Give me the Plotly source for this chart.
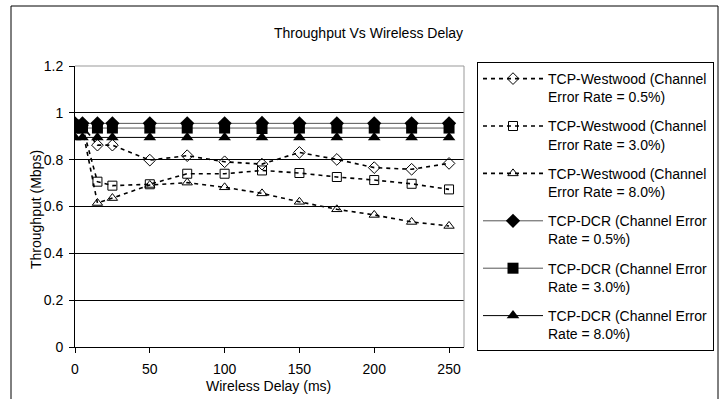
import plotly.graph_objects as go

# Wireless delay (ms)
delay = [0, 5, 15, 25, 50, 75, 100, 125, 150, 175, 200, 225, 250]

# Throughput (Mbps)
westwood_05 = [0.95, 0.945, 0.862, 0.862, 0.798, 0.817, 0.791, 0.781, 0.831, 0.801, 0.766, 0.759, 0.784]
westwood_30 = [0.95, 0.94, 0.706, 0.689, 0.695, 0.740, 0.740, 0.754, 0.743, 0.726, 0.713, 0.697, 0.673]
westwood_80 = [0.95, 0.93, 0.615, 0.636, 0.692, 0.702, 0.682, 0.656, 0.620, 0.588, 0.564, 0.534, 0.517]
dcr_05 = [0.955, 0.955, 0.955, 0.955, 0.955, 0.955, 0.955, 0.957, 0.955, 0.955, 0.955, 0.955, 0.955]
dcr_30 = [0.935, 0.935, 0.935, 0.935, 0.935, 0.935, 0.935, 0.933, 0.935, 0.935, 0.935, 0.935, 0.935]
dcr_80 = [0.895, 0.895, 0.895, 0.895, 0.895, 0.895, 0.895, 0.895, 0.895, 0.895, 0.895, 0.895, 0.895]

names = [
    "TCP-Westwood (Channel<br>Error Rate = 0.5%)",
    "TCP-Westwood (Channel<br>Error Rate = 3.0%)",
    "TCP-Westwood (Channel<br>Error Rate = 8.0%)",
    "TCP-DCR (Channel Error<br>Rate = 0.5%)",
    "TCP-DCR (Channel Error<br>Rate = 3.0%)",
    "TCP-DCR (Channel Error<br>Rate = 8.0%)",
]

FONT = "Liberation Sans, Arial, sans-serif"

fig = go.Figure()

ww_series = [westwood_05, westwood_30, westwood_80]
ww_symbols = ["diamond-open", "square-open", "triangle-up-open"]
for i, (vals, sym) in enumerate(zip(ww_series, ww_symbols)):
    fig.add_trace(go.Scatter(
        x=delay, y=vals, name=names[i], mode="lines+markers",
        line=dict(color="black", width=1.6, dash="4px,4px"),
        marker=dict(symbol=sym, size=9, color="black", line=dict(width=1, color="black")),
        legendgroup=f"g{i}",
    ))

dcr_series = [dcr_05, dcr_30, dcr_80]
dcr_symbols = ["diamond", "square", "triangle-up"]
dcr_colors = ["#555555", "#555555", "black"]
for j, (vals, sym, col) in enumerate(zip(dcr_series, dcr_symbols, dcr_colors)):
    i = j + 3
    fig.add_trace(go.Scatter(
        x=delay, y=vals, name=names[i], mode="lines+markers",
        line=dict(color=col, width=1),
        marker=dict(symbol=sym, size=11, color="black", line=dict(width=0)),
        legendgroup=f"g{i}",
    ))

L, R, T, B = 75, 464, 66, 347
W, H = 720, 399
pw, ph = R - L, B - T


def px_x(p):
    return (p - L) / pw


def px_y(p):
    return (B - p) / ph


fig.update_layout(
    width=W, height=H,
    margin=dict(l=L, r=W - R, t=T, b=H - B, pad=0, autoexpand=False),
    paper_bgcolor="white", plot_bgcolor="white",
    font=dict(family=FONT, size=14, color="black"),
    showlegend=True,
    legend=dict(
        x=px_x(477), y=px_y(62), xanchor="left", yanchor="top",
        bordercolor="black", borderwidth=1, bgcolor="white",
        font=dict(family=FONT, size=14, color="black"),
        itemwidth=60, valign="top",
        traceorder="grouped", tracegroupgap=8,
        maxheight=400,
    ),
    xaxis=dict(
        range=[0, 260], tickvals=[0, 50, 100, 150, 200, 250],
        showgrid=False, zeroline=False,
        showline=True, linecolor="black", linewidth=1,
        ticks="outside", ticklen=5, tickcolor="black",
        ticklabelstandoff=4,
        tickfont=dict(family=FONT, size=14),
    ),
    yaxis=dict(
        range=[0, 1.2], tickvals=[0, 0.2, 0.4, 0.6, 0.8, 1, 1.2],
        ticktext=["0", "0.2", "0.4", "0.6", "0.8", "1", "1.2"],
        showgrid=True, gridcolor="black", gridwidth=1, zeroline=False,
        showline=True, linecolor="black", linewidth=1,
        ticks="outside", ticklen=5, tickcolor="black",
        ticklabelstandoff=3,
        tickfont=dict(family=FONT, size=14),
    ),
    shapes=[
        # plot-area frame (top and right in gray)
        dict(type="line", xref="paper", yref="paper", x0=0, x1=1, y0=1, y1=1,
             line=dict(color="#999999", width=1), layer="above"),
        dict(type="line", xref="paper", yref="paper", x0=1, x1=1, y0=0, y1=1,
             line=dict(color="#999999", width=1), layer="above"),
        # outer chart border
        dict(type="rect", xref="paper", yref="paper",
             x0=px_x(11), x1=px_x(718), y0=px_y(420), y1=px_y(6),
             line=dict(color="black", width=1), layer="below"),
    ],
    annotations=[
        dict(text="Throughput Vs Wireless Delay", xref="paper", yref="paper",
             x=px_x(368), y=px_y(33), showarrow=False, xanchor="center", yanchor="middle",
             font=dict(family=FONT, size=14)),
        dict(text="Wireless Delay (ms)", xref="paper", yref="paper",
             x=px_x(268), y=px_y(386), showarrow=False, xanchor="center", yanchor="middle",
             font=dict(family=FONT, size=14)),
        dict(text="Throughput (Mbps)", xref="paper", yref="paper",
             x=px_x(36), y=px_y(210), showarrow=False, xanchor="center", yanchor="middle",
             textangle=-90, font=dict(family=FONT, size=14)),
    ],
)

fig.write_html("out.html")
